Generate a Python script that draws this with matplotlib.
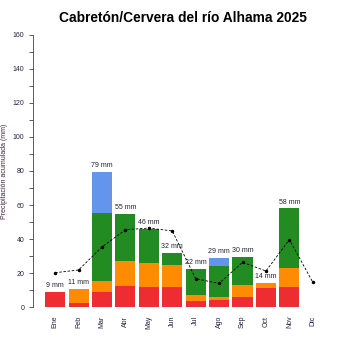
import matplotlib.pyplot as plt
import numpy as np

plt.rcParams['font.family'] = ['Liberation Sans', 'DejaVu Sans']

months = ["Ene", "Feb", "Mar", "Abr", "May", "Jun",
          "Jul", "Ago", "Sep", "Oct", "Nov", "Dic"]

# stacked components (mm)
red = [9, 2.5, 9.2, 12.7, 11.7, 11.7, 3.7, 4.2, 6, 11.5, 12, 0]
orange = [0, 8.5, 6.2, 14.5, 14.3, 12.9, 3.5, 1.7, 7, 2.8, 11.2, 0]
green = [0, 0, 39.9, 27.8, 20, 7.4, 15.3, 18.3, 16.7, 0, 34.8, 0]
blue = [0, 0, 24.3, 0, 0, 0, 0, 4.8, 0, 0, 0, 0]
totals = [9, 11, 79, 55, 46, 32, 22, 29, 30, 14, 58, None]

# average (dashed line)
average = [20.3, 21.9, 35.4, 45.5, 46.5, 44.8, 16.8, 14, 26.4, 21.3, 39.7, 14.7]

x = np.arange(len(months))
fig = plt.figure(figsize=(3.5, 3.5), dpi=100)
ax = fig.add_axes([0.094, 0.122, 0.86, 0.779])

w = 0.86
b = np.zeros(len(months))
for vals, col in [(red, "#ee2d33"), (orange, "#ff8c00"),
                  (green, "#228b22"), (blue, "#6495ed")]:
    ax.bar(x, vals, w, bottom=b, color=col, edgecolor="none")
    b += np.array(vals)

ax.plot(x, average, color="black", ls=(0, (3, 2)), lw=0.6,
        marker="o", ms=1.5, zorder=5)

for i, t in enumerate(totals):
    if t is None:
        continue
    ax.text(x[i], b[i] + 1.5, f"{t} mm", ha="center", va="bottom",
            fontsize=5, color="#222233")

ax.set_xlim(-0.95, 11.9)
ax.set_ylim(0, 160)
ax.set_yticks(np.arange(0, 161, 20))
ax.set_yticks(np.arange(10, 160, 20), minor=True)
ax.set_xticks(x)
ax.set_xticklabels(months, rotation=90, fontsize=5, color="#222244")
ax.tick_params(axis="x", length=0, pad=6)
ax.tick_params(axis="y", which="both", length=3, width=0.6,
               color="#444444", labelsize=5, labelcolor="#222244", pad=3)
for s in ["top", "right", "bottom"]:
    ax.spines[s].set_visible(False)
ax.spines["left"].set_color("#444444")
ax.spines["left"].set_linewidth(0.6)

ax.set_ylabel("Precipitación acumulada (mm)", fontsize=5, color="#442244")
ax.yaxis.set_label_coords(-0.083, 0.5)
fig.text(0.523, 0.948, "Cabretón/Cervera del río Alhama 2025",
         ha="center", va="center", fontsize=9.9, fontweight="bold")

fig.savefig("out.png", dpi=100)
